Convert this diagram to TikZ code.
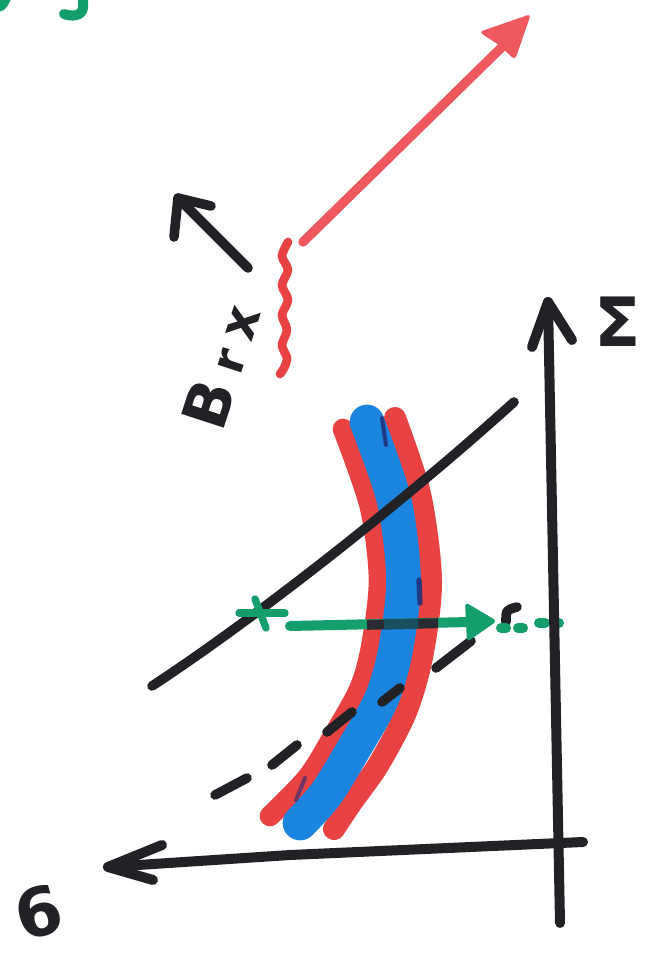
\documentclass[tikz,border=0pt]{standalone}
\usepackage{fontspec}
\newfontfamily\markerfont{DejaVu Sans}
\definecolor{inkblack}{RGB}{34,34,38}
\definecolor{inkred}{RGB}{232,66,66}
\definecolor{inkpink}{RGB}{238,88,94}
\definecolor{inkblue}{RGB}{26,132,222}
\definecolor{inknavy}{RGB}{32,44,120}
\definecolor{inkgreen}{RGB}{20,158,108}
\definecolor{inkdark}{RGB}{40,44,48}
\definecolor{inkteal}{RGB}{25,80,95}
\begin{document}
\begin{tikzpicture}[x=0.75pt,y=-0.75pt,
  mk/.style={line cap=round,line join=round},
  blackpen/.style={mk,draw=inkblack,line width=7.2pt},
  axispen/.style={mk,draw=inkblack,line width=7.5pt},
  pinkpen/.style={mk,draw=inkpink,line width=7pt},
  wavypen/.style={mk,draw=inkred,line width=6.5pt},
  redband/.style={mk,draw=inkred,line width=15.5pt},
  blueband/.style={mk,draw=inkblue,line width=26pt},
  navypen/.style={mk,draw=inknavy,line width=3pt,opacity=.85},
  greenpen/.style={mk,draw=inkgreen,line width=7.5pt},
  lbl/.style={inner sep=0pt,text=inkblack}]
\useasboundingbox (0,0) rectangle (651,955);
\fill[white] (0,0) rectangle (651,955);

% green fragment at the top
\draw[greenpen] (83,-5) -- (83,8) .. controls (82,16) and (72,17) .. (64,14);
\draw[greenpen] (-3,7) .. controls (2,6) .. (6,-2);

% red arrow
\coordinate (rA) at (303,242);
\coordinate (rB) at (503,46);
\draw[pinkpen] (rA) -- (rB);
\fill[inkpink,rounded corners=3pt] (531,14) -- (515,60) -- (499,45) -- (479,32) -- cycle;

% red wavy line
\draw[wavypen] plot[smooth] coordinates {(288,242) (282,256) (288,270) (282,285) (288,300) (282,315) (287,330) (282,345) (287,358) (284,368) (280,374)};

% small black arrow
\coordinate (kA) at (248,268);
\coordinate (kT) at (178,198);
\draw[blackpen] (kA) -- (kT);
\draw[blackpen] (174,237) -- (kT) -- (211,206);

% label Brx
\node[lbl,rotate=72] (brx) at (221,366)
  {\markerfont\bfseries\fontsize{46}{46}\selectfont B\fontsize{34}{34}\selectfont\;r\;\fontsize{38}{38}\selectfont x};

% the band
\draw[redband] plot[smooth] coordinates {(343,429) (369.8,506.2) (379,579) (371.6,644.4) (359.9,687.6) (334.4,733.8) (307.8,777) (270,816)};
\draw[redband,line width=16.5pt] plot[smooth] coordinates {(395,418) (420,494) (431,580) (422.5,654.6) (406.3,711.4) (378.4,764.8) (352,802) (334,829)};
\draw[blueband] plot[smooth] coordinates {(367,422) (394,500) (403.5,580) (395.5,650) (381.5,699) (353.6,749) (326,794) (300,823)};
\draw[navypen] (382,418) -- (386,445);
\draw[navypen,line width=4pt] (419,580) -- (420,603);
\draw[navypen,opacity=.6] (305,778) -- (296,800);

% diagonal line
\draw[blackpen] (152,686) .. controls (250,622) and (400,505) .. (514,402);

% dashed line
\draw[blackpen] (215,795) -- (247,778);
\draw[blackpen] (272,765) -- (297,745);
\draw[blackpen] (327,732) -- (352,712);
\draw[blackpen] (382,702) -- (400,688);
\draw[blackpen] (436,668) -- (471,641);
\draw[blackpen] (517,607) .. controls (506,610) .. (506,622);

% green arrow
\draw[greenpen,line width=5.5pt] (239,613) -- (285,613);
\draw[greenpen,line width=5.5pt] (255,599) -- (266,628);
\coordinate (gS) at (290,626);
\coordinate (gE) at (470,622);
\draw[greenpen] (gS) -- (gE);
\draw[line width=7.5pt,draw=inkdark] (367,624.8) -- (438,623.2);
\draw[line width=7.5pt,draw=inkteal] (384,624.4) -- (418,623.7);
\fill[inkgreen,rounded corners=3pt] (497,621) -- (465,602) -- (467,642) -- cycle;
\draw[greenpen] (501,628) -- (506,628);
\draw[greenpen] (518,628) -- (523,628);
\draw[greenpen] (539,623) -- (545,623);
\draw[greenpen] (554,623) -- (559,623);

% axes
\coordinate (vB) at (560,923);
\coordinate (vT) at (548,302);
\draw[axispen] (vB) -- (vT);
\draw[axispen] (532,347) -- (vT) -- (572,340);
\coordinate (hR) at (583,842);
\coordinate (hL) at (108,867);
\draw[axispen] (hR) -- (290,855) -- (hL);
\draw[axispen] (162,845) -- (hL) -- (153,880);

% axis labels
\node[lbl,font={\markerfont\bfseries\fontsize{51}{51}\selectfont}] (sig) at (618,322) {Σ};
\node[lbl,rotate=15,font={\markerfont\bfseries\fontsize{50}{50}\selectfont}] (six) at (39,912) {6};
\end{tikzpicture}
\end{document}
